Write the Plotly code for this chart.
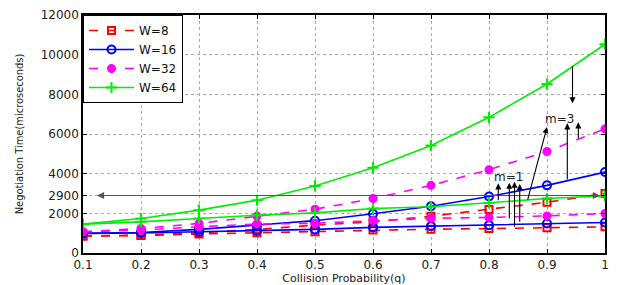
import plotly.graph_objects as go

q = [0.1, 0.2, 0.3, 0.4, 0.5, 0.6, 0.7, 0.8, 0.9, 1.0]
x_tick_labels = ["0.1", "0.2", "0.3", "0.4", "0.5", "0.6", "0.7", "0.8", "0.9", "1"]
y_tick_vals = [0, 2000, 2900, 4000, 6000, 8000, 10000, 12000]
y_tick_labels = ["0", "2000", "2900", "4000", "6000", "8000", "10000", "12000"]

w8_m1 = [855, 880, 960, 1020, 1070, 1155, 1200, 1230, 1270, 1320]
w8_m3 = [855, 900, 1020, 1190, 1405, 1570, 1855, 2190, 2560, 3000]
w16_m1 = [990, 1010, 1070, 1120, 1190, 1290, 1355, 1405, 1490, 1540]
w16_m3 = [990, 1035, 1190, 1405, 1630, 1975, 2360, 2850, 3410, 4080]
w32_m1 = [1070, 1160, 1325, 1460, 1500, 1640, 1750, 1790, 1870, 1990]
w32_m3 = [1070, 1240, 1490, 1860, 2210, 2745, 3410, 4200, 5120, 6260]
w64_m1 = [1455, 1570, 1740, 1905, 2025, 2240, 2330, 2525, 2745, 2880]
w64_m3 = [1455, 1740, 2160, 2660, 3380, 4300, 5420, 6840, 8520, 10530]

# arrows: (tail_x, tail_y, head_x, head_y)
m1_arrows = [(0.816, 2585, 0.816, 3513), (0.835, 1663, 0.835, 3543),
             (0.844, 1245, 0.844, 3594), (0.853, 1497, 0.853, 3478)]
m3_arrows = [(0.866, 2621, 0.900, 6350), (0.935, 3629, 0.935, 6537),
             (0.954, 5695, 0.954, 6587), (0.944, 9475, 0.944, 7545)]
m1_label = (0.833, 3850, "m=1")
m3_label = (0.922, 6770, "m=3")
ref_line = (0.124, 0.994, 2900)

series = [
    ("W=8", "#ff0000", "dash", "square-open", 7, w8_m1, w8_m3),
    ("W=16", "#0000ff", "solid", "circle-open", 8, w16_m1, w16_m3),
    ("W=32", "#ff00ff", "dash", "circle", 7, w32_m1, w32_m3),
    ("W=64", "#00ee00", "solid", "cross-thin-open", 8, w64_m1, w64_m3),
]

fig = go.Figure()
for name, color, dash, sym, size, lo, hi in series:
    for i, ys in enumerate([hi, lo]):
        fig.add_trace(go.Scatter(
            x=q, y=ys, mode="lines+markers", name=name, legendgroup=name,
            showlegend=(i == 0),
            line=dict(color=color, width=1.6, dash=dash),
            marker=dict(symbol=sym, size=size, color=color,
                        line=dict(color=color, width=2)),
        ))

tickfont = dict(family="DejaVu Sans", size=12, color="#222")
anns = []
anns.append(dict(x=ref_line[0], y=ref_line[2], ax=ref_line[1], ay=ref_line[2],
                 xref="x", yref="y", axref="x", ayref="y", text="",
                 showarrow=True, arrowhead=2, arrowside="end+start",
                 arrowsize=1.2, arrowwidth=1.2, arrowcolor="#555"))
for tx, ty, hx, hy in m1_arrows + m3_arrows:
    anns.append(dict(x=hx, y=hy, ax=tx, ay=ty, xref="x", yref="y",
                     axref="x", ayref="y", text="", showarrow=True,
                     arrowhead=2, arrowsize=1.1, arrowwidth=1.1,
                     arrowcolor="#000"))
for lx, ly, t in [m1_label, m3_label]:
    anns.append(dict(x=lx, y=ly, text=t, showarrow=False, xref="x", yref="y",
                     font=dict(family="DejaVu Sans", size=12, color="#222")))

fig.update_layout(
    width=611, height=277,
    margin=dict(l=75, r=14, t=7, b=32, autoexpand=False),
    paper_bgcolor="white", plot_bgcolor="white",
    font=tickfont,
    showlegend=True,
    legend=dict(x=0, y=1, xanchor="left", yanchor="top",
                bgcolor="white", bordercolor="black", borderwidth=1,
                font=dict(family="DejaVu Sans", size=12, color="#111"),
                tracegroupgap=0, itemwidth=45),
    annotations=anns,
    xaxis=dict(range=[0.1, 1.0], tickvals=q, ticktext=x_tick_labels,
               automargin=False, tickfont=tickfont,
               showline=True, linecolor="black", linewidth=1.5, mirror="ticks",
               ticks="inside", ticklen=4, tickcolor="black",
               showgrid=True, gridcolor="#aaa", griddash="dot", gridwidth=1,
               zeroline=False,
               title=dict(text="Collision Probability(q)", standoff=3,
                          font=dict(family="DejaVu Sans", size=11))),
    yaxis=dict(range=[0, 12000], tickvals=y_tick_vals, ticktext=y_tick_labels,
               automargin=False, tickfont=tickfont,
               showline=True, linecolor="black", linewidth=1.5, mirror="ticks",
               ticks="inside", ticklen=4, tickcolor="black",
               showgrid=True, gridcolor="#aaa", griddash="dot", gridwidth=1,
               zeroline=False,
               title=dict(text="Negotiation Time(microseconds)", standoff=15,
                          font=dict(family="Liberation Sans Narrow, DejaVu Sans Condensed", size=11))),
)

fig.write_html("out.html")
